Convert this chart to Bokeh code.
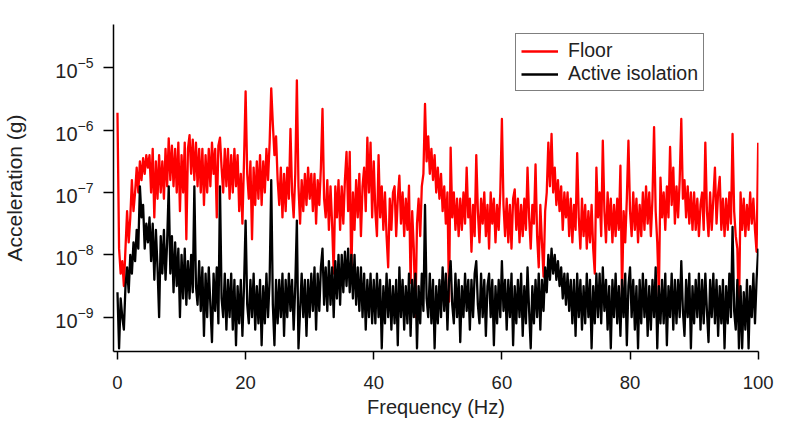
from bokeh.plotting import figure
from bokeh.models import Range1d, FixedTicker, Legend, LegendItem
from bokeh.embed import file_html
from bokeh.resources import INLINE

# Frequency grid step (Hz)
FREQ_STEP = 0.25

# log10 of acceleration (g), one value every 0.25 Hz from 0 to 100 Hz
floor_log = [
    -5.72, -7.9, -8.3, -8.1, -8.5, -7.9, -7.3, -7.8, -7.4, -6.8, -7.3, -7.0, -6.6, -7.0, -6.5, -6.8, -6.45, -6.7, -6.4, -6.6,
    -6.4, -7.0, -6.3, -7.4, -6.5, -7.1, -6.4, -7.0, -6.5, -7.1, -6.3, -6.9, -6.13, -6.8, -6.25, -6.9, -6.3, -7.0, -6.2, -7.3,
    -6.4, -7.0, -6.2, -7.75, -6.3, -6.08, -6.7, -6.15, -6.8, -6.2, -6.9, -6.3, -7.0, -6.3, -7.2, -6.4, -7.0, -6.3, -6.9, -6.2,
    -6.7, -6.3, -7.4, -6.25, -6.12, -6.6, -7.0, -6.3, -6.9, -6.3, -7.1, -6.4, -7.0, -6.3, -6.9, -6.4, -7.3, -6.7, -7.5, -6.5,
    -5.38, -6.7, -7.1, -6.5, -7.75, -6.6, -7.2, -6.5, -7.1, -6.4, -7.2, -6.5, -7.0, -6.3, -6.8, -6.2, -5.33, -5.9, -6.4, -6.1,
    -6.8, -7.2, -6.6, -7.4, -6.7, -7.3, -6.6, -7.1, -5.98, -7.0, -7.4, -6.7, -5.2, -6.9, -7.5, -6.8, -7.3, -6.7, -7.2, -6.6,
    -7.1, -6.7, -7.3, -6.7, -7.5, -6.8, -7.2, -6.6, -5.66, -7.1, -7.4, -6.8, -7.6, -6.9, -7.5, -8.3, -6.9, -7.4, -6.8, -7.6,
    -6.9, -7.5, -6.8, -6.35, -7.3, -6.35, -8.35, -7.0, -7.6, -6.8, -7.4, -6.7, -7.7, -6.9, -6.6, -7.3, -6.12, -7.0, -6.2, -7.4,
    -6.5, -7.3, -7.7, -6.4, -7.4, -6.9, -7.6, -7.0, -7.7, -8.2, -7.1, -7.6, -7.0, -6.9, -7.7, -7.1, -6.73, -7.5, -7.0, -7.7,
    -7.1, -7.6, -6.89, -8.45, -7.3, -7.9, -9.0, -7.5, -7.1, -7.7, -6.9, -6.7, -5.58, -6.5, -6.1, -6.7, -6.3, -6.8, -6.4, -7.0,
    -6.6, -7.1, -6.7, -7.3, -6.9, -7.5, -7.0, -8.75, -6.28, -7.4, -7.0, -7.6, -7.1, -7.7, -7.1, -7.6, -7.0, -7.5, -6.6, -7.4,
    -7.1, -7.95, -7.2, -7.7, -6.4, -7.3, -7.8, -7.1, -7.5, -7.0, -7.7, -7.2, -7.9, -7.0, -7.5, -7.1, -7.8, -7.2, -7.6, -7.0,
    -5.82, -7.2, -7.7, -7.1, -7.8, -7.2, -7.9, -7.1, -6.95, -7.6, -7.1, -7.8, -7.2, -7.7, -7.1, -7.6, -6.6, -7.4, -7.9, -7.2,
    -7.5, -6.55, -7.7, -8.2, -7.2, -7.8, -8.35, -7.3, -7.0, -6.2, -6.9, -6.06, -7.0, -6.6, -7.2, -6.8, -7.3, -6.9, -7.6, -7.0,
    -7.4, -7.0, -7.7, -7.1, -7.8, -7.2, -7.6, -6.37, -7.4, -7.9, -7.1, -7.7, -7.2, -7.9, -7.3, -7.8, -7.2, -7.9, -8.3, -6.6,
    -7.4, -7.0, -7.7, -6.17, -7.3, -7.8, -7.0, -7.6, -7.1, -7.8, -7.2, -7.7, -7.1, -7.6, -6.57, -8.65, -7.3, -7.8, -7.1, -6.17,
    -7.3, -7.7, -7.0, -7.6, -7.1, -7.8, -7.2, -7.7, -7.0, -7.6, -6.9, -7.5, -7.0, -7.7, -7.1, -5.95, -7.3, -7.8, -8.65, -6.76,
    -7.4, -7.0, -7.6, -6.9, -7.4, -6.27, -7.2, -6.6, -7.5, -6.9, -7.4, -6.8, -5.82, -7.1, -6.8, -7.4, -6.9, -7.5, -7.0, -7.6,
    -7.0, -7.6, -7.1, -7.7, -7.2, -7.0, -7.6, -6.2, -7.3, -7.7, -7.0, -7.6, -7.1, -6.6, -7.5, -7.0, -6.75, -7.6, -7.1, -7.7,
    -7.1, -7.6, -7.0, -7.5, -6.06, -7.3, -7.7, -7.9, -9.0, -7.0, -7.6, -7.1, -7.7, -7.2, -7.6, -7.0, -7.5, -7.1, -7.6, -7.95,
    -6.2,
]

isolation_log = [
    -8.6, -9.5, -8.7, -9.0, -9.2, -8.5, -8.2, -8.6, -8.0, -8.3, -7.8, -8.1, -7.6, -7.9, -6.9, -7.4, -7.2, -7.9, -7.5, -7.8,
    -7.4, -8.1, -7.5, -8.4, -7.6, -8.2, -9.0, -7.7, -8.3, -7.6, -8.4, -7.8, -6.9, -8.3, -7.7, -8.6, -7.8, -8.5, -7.9, -9.0,
    -8.0, -8.7, -7.9, -8.8, -8.1, -8.7, -8.0, -8.6, -6.9, -8.5, -8.8, -8.1, -8.9, -8.2, -9.3, -8.3, -9.0, -8.2, -8.8, -9.4,
    -8.3, -8.9, -8.2, -9.1, -6.9, -8.7, -9.0, -8.3, -9.2, -8.4, -9.0, -8.3, -9.2, -8.4, -9.45, -8.5, -9.1, -8.4, -9.3, -8.5,
    -7.45, -8.8, -9.1, -8.4, -9.0, -8.3, -9.2, -8.5, -9.1, -8.4, -9.45, -8.5, -9.1, -8.3, -9.0, -8.4, -6.8, -8.8, -9.45, -8.4,
    -9.1, -8.4, -9.0, -8.3, -9.3, -8.4, -9.0, -8.3, -8.9, -8.4, -9.2, -8.5, -7.45, -9.5, -8.9, -8.3, -9.0, -8.4, -9.3, -8.4,
    -9.0, -8.3, -8.9, -8.2, -9.2, -8.3, -8.9, -8.2, -7.9, -8.8, -8.2, -8.9, -8.1, -8.8, -8.2, -9.0, -8.1, -8.7, -8.0, -8.8,
    -8.0, -8.6, -7.95, -8.5, -7.9, -8.6, -8.0, -8.7, -8.0, -8.8, -8.2, -8.9, -8.2, -9.0, -8.3, -9.2, -8.4, -9.0, -8.3, -9.1,
    -8.4, -9.1, -8.3, -9.0, -8.4, -9.5, -8.5, -9.1, -8.3, -9.0, -8.4, -9.2, -8.5, -9.1, -8.4, -9.45, -8.2, -9.0, -8.4, -9.2,
    -8.5, -9.1, -8.3, -9.3, -8.4, -9.0, -8.3, -9.5, -8.5, -9.1, -8.3, -8.9, -7.2, -8.7, -9.0, -8.3, -9.1, -8.4, -9.5, -8.5,
    -9.1, -8.4, -9.0, -8.2, -8.9, -8.3, -9.2, -8.4, -8.1, -8.8, -9.1, -8.3, -9.0, -8.4, -9.4, -8.5, -9.0, -8.3, -8.9, -8.4,
    -9.2, -8.4, -9.0, -8.3, -8.1, -8.8, -9.1, -8.3, -9.0, -8.4, -9.3, -8.5, -8.3, -9.0, -8.4, -9.45, -8.5, -9.1, -8.4, -9.0,
    -8.1, -8.9, -8.4, -9.2, -8.4, -9.0, -8.3, -9.45, -8.5, -9.1, -8.4, -9.0, -8.3, -9.3, -8.5, -9.1, -8.2, -8.9, -9.5, -8.5,
    -9.1, -8.4, -9.0, -8.3, -9.2, -8.4, -8.9, -8.2, -8.6, -8.0, -8.4, -7.9, -8.3, -8.0, -8.4, -8.1, -8.5, -8.2, -8.7, -8.3,
    -8.8, -8.3, -8.9, -8.4, -9.1, -8.4, -9.3, -8.3, -9.0, -8.4, -9.2, -8.5, -9.1, -8.3, -9.0, -8.4, -9.5, -8.5, -9.1, -8.3,
    -9.0, -8.3, -9.1, -8.2, -8.9, -8.4, -9.2, -8.5, -9.5, -8.4, -9.0, -8.3, -9.1, -8.5, -9.3, -8.4, -9.0, -8.3, -9.45, -8.5,
    -8.2, -9.0, -8.4, -9.2, -8.5, -9.5, -8.4, -9.1, -8.3, -9.0, -8.4, -9.3, -8.5, -9.2, -8.4, -9.0, -8.2, -9.5, -8.5, -9.1,
    -8.4, -9.1, -8.3, -9.45, -8.5, -9.0, -8.3, -9.2, -8.4, -9.1, -8.4, -9.0, -8.1, -8.9, -9.3, -8.4, -9.0, -8.3, -9.5, -8.5,
    -9.1, -8.4, -9.0, -8.3, -9.2, -8.4, -9.1, -8.3, -8.9, -9.4, -8.4, -9.0, -8.3, -9.1, -8.4, -9.3, -8.5, -9.1, -8.4, -9.5,
    -8.5, -9.1, -8.3, -9.0, -7.55, -8.9, -9.2, -8.4, -9.5, -8.5, -9.5, -8.6, -9.2, -8.4, -9.5, -8.5, -9.0, -8.3, -9.1, -8.4,
    -7.9,
]

x_ticks = [0, 20, 40, 60, 80, 100]
y_ticks = [1e-9, 1e-8, 1e-7, 1e-6, 1e-5]
series_labels = ["Floor", "Active isolation"]

freq = [i * FREQ_STEP for i in range(len(floor_log))]
floor = [10 ** v for v in floor_log]
isolation = [10 ** v for v in isolation_log]

FONT = "Liberation Sans"

p = figure(
    width=801, height=424,
    y_axis_type="log",
    x_range=Range1d(-0.62, 100.05),
    y_range=Range1d(10 ** -9.55, 10 ** -4.305),
    output_backend="svg", toolbar_location=None,
    min_border_left=110, min_border_right=43,
    min_border_top=24, min_border_bottom=73,
)
p.outline_line_color = None
p.grid.visible = False
p.background_fill_color = "white"
p.border_fill_color = "white"

r1 = p.line(freq, floor, line_color="#FF0000", line_width=2.3, line_join="round")
r2 = p.line(freq, isolation, line_color="#000000", line_width=2.3, line_join="round")

p.xaxis.ticker = FixedTicker(ticks=x_ticks)
p.yaxis.ticker = FixedTicker(ticks=y_ticks)
for ax in (p.xaxis, p.yaxis):
    ax.axis_line_color = "black"
    ax.axis_line_width = 1.5
    ax.major_tick_line_color = "black"
    ax.major_tick_line_width = 1.5
    ax.minor_tick_line_color = None
    ax.major_tick_in = 0
    ax.major_label_text_font = FONT
    ax.major_label_text_color = "#222222"
    ax.axis_label_text_font = FONT
    ax.axis_label_text_font_style = "normal"
    ax.axis_label_text_color = "#222222"

p.xaxis.major_tick_out = 8
p.xaxis.major_label_standoff = 16
p.xaxis.major_label_text_font_size = "18.5px"
p.xaxis.axis_label = "Frequency (Hz)"
p.xaxis.axis_label_text_font_size = "20px"
p.xaxis.axis_label_standoff = 4

p.yaxis.major_tick_out = 10
p.yaxis.major_label_standoff = 10
p.yaxis.major_label_text_font_size = "20px"
p.yaxis.axis_label = "Acceleration (g)"
p.yaxis.axis_label_text_font_size = "21px"
p.yaxis.axis_label_standoff = 26

legend = Legend(
    items=[LegendItem(label=series_labels[0], renderers=[r1]),
           LegendItem(label=series_labels[1], renderers=[r2])],
    location=(402, 260),
    label_text_font=FONT, label_text_font_size="19.5px", label_text_color="#222222",
    glyph_width=37, glyph_height=18, label_height=18, label_standoff=10,
    spacing=0, padding=5, margin=0,
    border_line_color="black", border_line_width=1.5,
    background_fill_color="white", background_fill_alpha=1.0,
)
p.add_layout(legend)

open("out.html", "w").write(file_html(p, INLINE))
